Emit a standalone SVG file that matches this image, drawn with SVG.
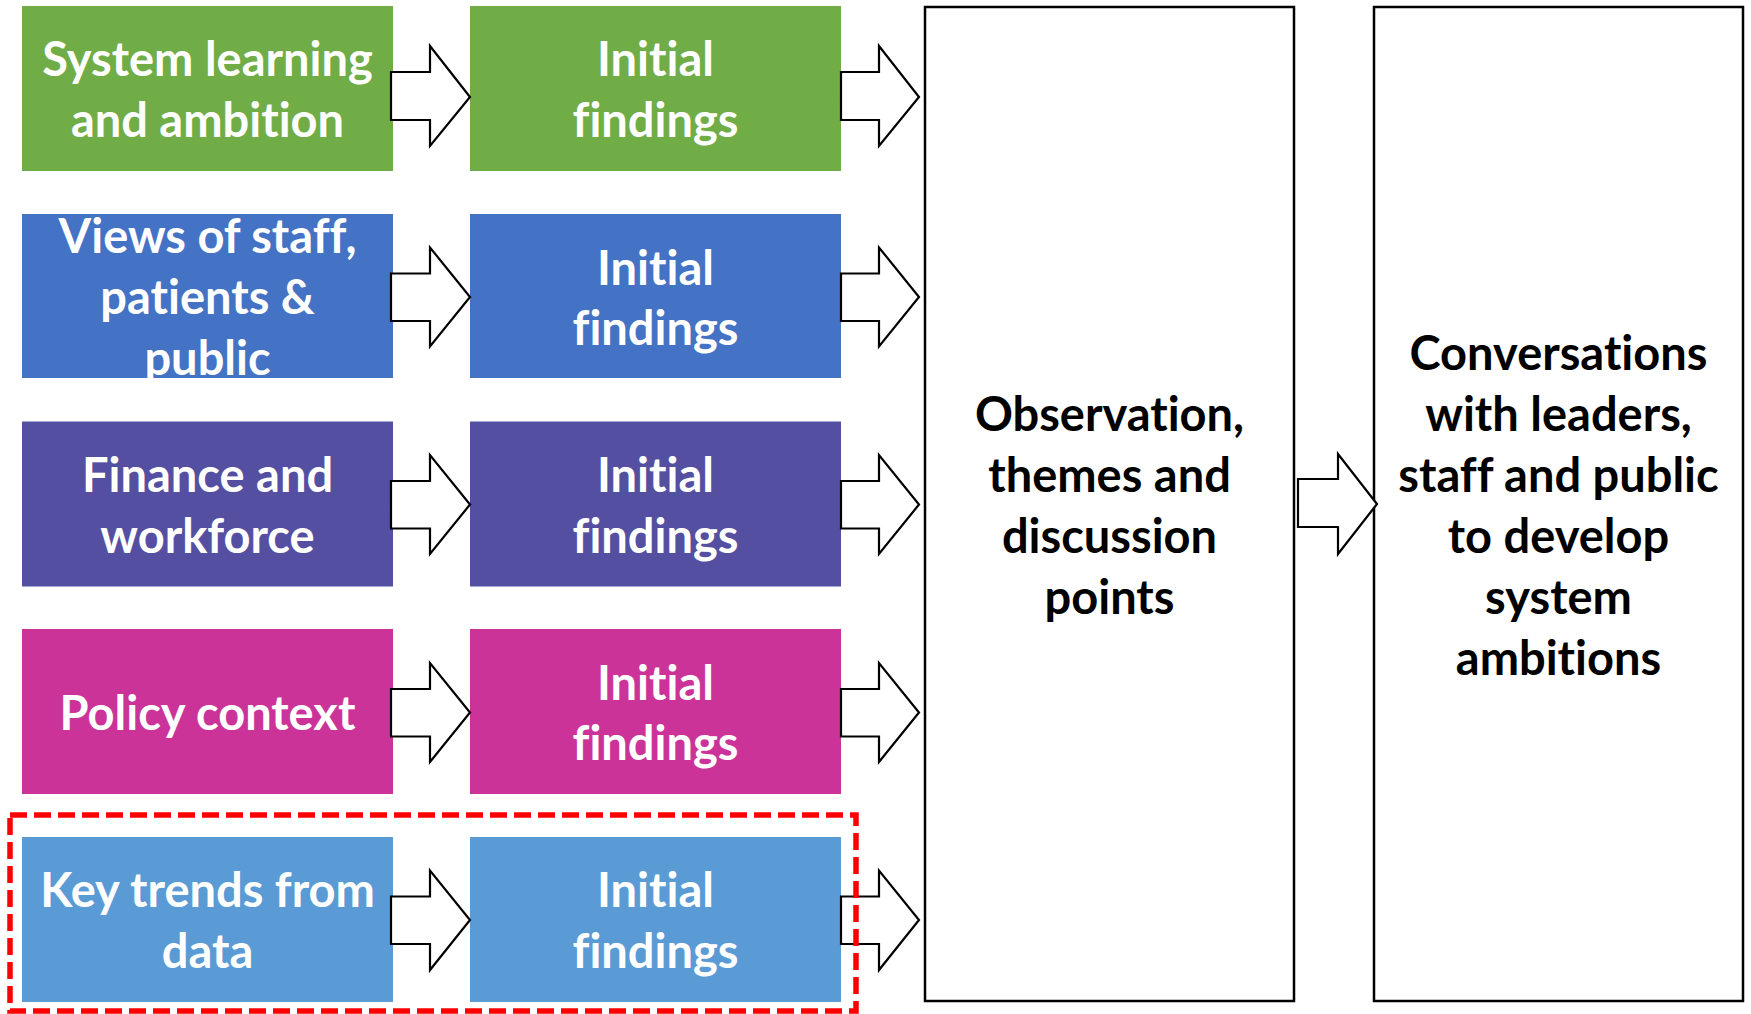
<svg xmlns="http://www.w3.org/2000/svg" width="1751" height="1014" viewBox="0 0 1751 1014">
  <style>
    .wt { font-family: Lato, "Open Sans", "Liberation Sans", sans-serif; font-weight: 700; font-size: 47px; fill: #ffffff; text-anchor: middle; font-variant-ligatures: none; }
    .bt { font-family: Lato, "Open Sans", "Liberation Sans", sans-serif; font-weight: 700; font-size: 47px; fill: #000000; text-anchor: middle; font-variant-ligatures: none; }
    .arrow { fill: #ffffff; stroke: #000000; stroke-width: 2.2; stroke-linejoin: miter; }
    .big { fill: #ffffff; stroke: #000000; stroke-width: 2.5; }
  </style>
  <rect width="1751" height="1014" fill="#ffffff"/>

  <g id="row1-source">
    <rect x="22" y="6" width="371" height="165" fill="#70AD47"/>
    <text class="wt" x="207.5" y="76">System learning</text>
    <text class="wt" x="207.5" y="137">and ambition</text>
  </g>
  <g id="row1-findings">
    <rect x="470" y="6" width="371" height="165" fill="#70AD47"/>
    <text class="wt" x="655.5" y="76">Initial</text>
    <text class="wt" x="655.5" y="137">findings</text>
  </g>

  <g id="row2-source">
    <rect x="22" y="214" width="371" height="164" fill="#4472C4"/>
    <text class="wt" x="207.5" y="253">Views of staff,</text>
    <text class="wt" x="207.5" y="314">patients &amp;</text>
    <text class="wt" x="207.5" y="375">public</text>
  </g>
  <g id="row2-findings">
    <rect x="470" y="214" width="371" height="164" fill="#4472C4"/>
    <text class="wt" x="655.5" y="284.5">Initial</text>
    <text class="wt" x="655.5" y="345">findings</text>
  </g>

  <g id="row3-source">
    <rect x="22" y="421.5" width="371" height="165" fill="#554FA1"/>
    <text class="wt" x="207.5" y="492">Finance and</text>
    <text class="wt" x="207.5" y="553">workforce</text>
  </g>
  <g id="row3-findings">
    <rect x="470" y="421.5" width="371" height="165" fill="#554FA1"/>
    <text class="wt" x="655.5" y="492">Initial</text>
    <text class="wt" x="655.5" y="553">findings</text>
  </g>

  <g id="row4-source">
    <rect x="22" y="629" width="371" height="165" fill="#CC3399"/>
    <text class="wt" x="207.5" y="729.5">Policy context</text>
  </g>
  <g id="row4-findings">
    <rect x="470" y="629" width="371" height="165" fill="#CC3399"/>
    <text class="wt" x="655.5" y="699.5">Initial</text>
    <text class="wt" x="655.5" y="760">findings</text>
  </g>

  <g id="row5-source">
    <rect x="22" y="837" width="371" height="165" fill="#5B9BD5"/>
    <text class="wt" x="207.5" y="907">Key trends from</text>
    <text class="wt" x="207.5" y="968">data</text>
  </g>
  <g id="row5-findings">
    <rect x="470" y="837" width="371" height="165" fill="#5B9BD5"/>
    <text class="wt" x="655.5" y="907">Initial</text>
    <text class="wt" x="655.5" y="968">findings</text>
  </g>

  <g id="synthesis">
    <rect class="big" x="925" y="7" width="369" height="994"/>
    <text class="bt" x="1109.5" y="431">Observation,</text>
    <text class="bt" x="1109.5" y="492">themes and</text>
    <text class="bt" x="1109.5" y="553">discussion</text>
    <text class="bt" x="1109.5" y="614">points</text>
  </g>

  <g id="conversations">
    <rect class="big" x="1374" y="7" width="369" height="994"/>
    <text class="bt" x="1558.5" y="370">Conversations</text>
    <text class="bt" x="1558.5" y="431">with leaders,</text>
    <text class="bt" x="1558.5" y="492">staff and public</text>
    <text class="bt" x="1558.5" y="553">to develop</text>
    <text class="bt" x="1558.5" y="614">system</text>
    <text class="bt" x="1558.5" y="675">ambitions</text>
  </g>

  <g id="connectors">
    <polygon class="arrow" points="391,72 430,72 430,46 470,97 430,146 430,120 391,120"/>
    <polygon class="arrow" points="841,72 879,72 879,46 919,97 879,146 879,120 841,120"/>

    <polygon class="arrow" points="391,273.5 430,273.5 430,247.5 470,297 430,346.5 430,321 391,321"/>
    <polygon class="arrow" points="841,273.5 879,273.5 879,247.5 919,297 879,346.5 879,321 841,321"/>

    <polygon class="arrow" points="391,481 430,481 430,455 470,504.5 430,554 430,528.5 391,528.5"/>
    <polygon class="arrow" points="841,481 879,481 879,455 919,504.5 879,554 879,528.5 841,528.5"/>

    <polygon class="arrow" points="391,689 430,689 430,663 470,712.5 430,762 430,736.5 391,736.5"/>
    <polygon class="arrow" points="841,689 879,689 879,663 919,712.5 879,762 879,736.5 841,736.5"/>

    <polygon class="arrow" points="391,896.5 430,896.5 430,870.5 470,920 430,970 430,944 391,944"/>
    <polygon class="arrow" points="841,896.5 879,896.5 879,870.5 919,920 879,970 879,944 841,944"/>

    <polygon class="arrow" points="1298,479 1338,479 1338,454 1377,504 1338,554 1338,527 1298,527"/>
  </g>

  <rect id="highlight" x="10" y="815" width="846" height="196" fill="none" stroke="#FF0000" stroke-width="5.5" stroke-dasharray="17,7"/>
</svg>
